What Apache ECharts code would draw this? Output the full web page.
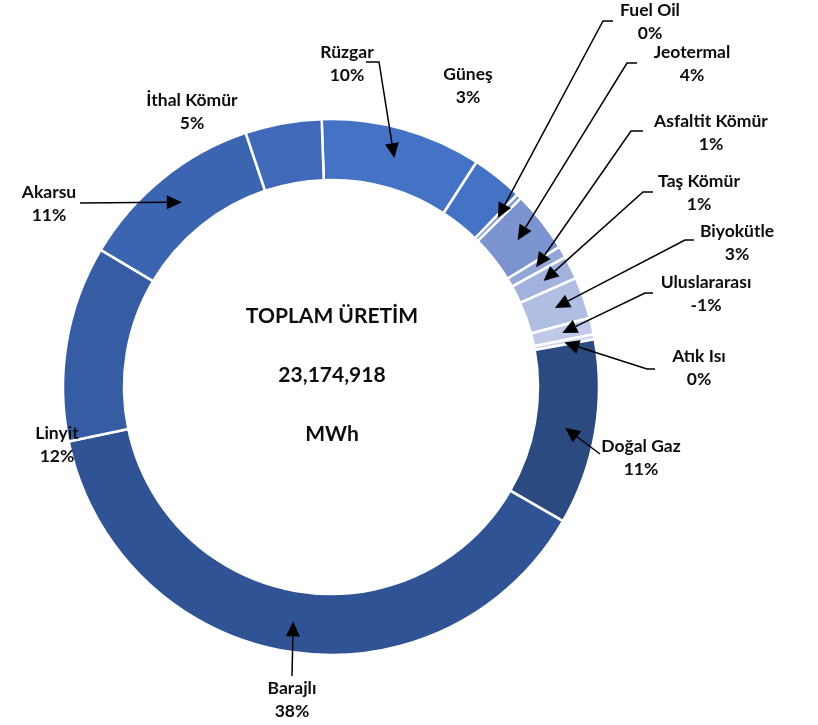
<!DOCTYPE html>
<html>
<head>
<meta charset="utf-8">
<script src="https://cdn.jsdelivr.net/npm/echarts@6/dist/echarts.min.js"></script>
<style>
  html, body { margin: 0; padding: 0; background: #fff; }
  #main { width: 818px; height: 725px; }
</style>
</head>
<body>
<div id="main"></div>
<script>
// kaynaklar (saat yönünde, tepeden başlayarak)
var sources = ['Rüzgar', 'Güneş', 'Fuel Oil', 'Jeotermal', 'Asfaltit Kömür', 'Taş Kömür', 'Biyokütle',
  'Uluslararası', 'Atık Isı', 'Doğal Gaz', 'Barajlı', 'Linyit', 'Akarsu', 'İthal Kömür'];
// pay (%)
var shares = [9.7, 3.1, 0.3, 3.7, 0.7, 1.4, 2.5, -1.0, 0.3, 11.2, 38.4, 11.8, 11.3, 4.6];
var totalText = '23,174,918';
var centerLines = ['TOPLAM ÜRETİM', totalText, 'MWh'];

var colors = ['#4472C4', '#4472C4', '#8398D1', '#7B93CF', '#93A6D8', '#A2B2DD', '#B1BEE3',
  '#C0CAE8', '#CDD5EC', '#2A4A80', '#2F5394', '#365CA4', '#3B64B1', '#4069B9'];

// etiket yerleri: metin merkezi, çizgi başlangıcı, dirsek (null = ok yok)
var labelPos = [
  [347, 64], [468, 86], [650, 22], [692, 64], [711, 133], [699, 193], [737, 243],
  [706, 294], [699, 368], [641, 458], [292, 700], [57, 445], [49, 204], [192, 112]
];
var lineStart = [
  [366, 62], null, [613, 21], [637, 63], [643, 131], [653, 192], [694, 240],
  [653, 293], [655, 369], [600, 454], [292, 676], null, [80, 203], null
];
var lineElbow = [
  [379, 62], null, [603, 21], [627, 63], [631, 131], [643, 192], [685, 240],
  [645, 293], [647, 369], [600, 454], [292, 676], null, [80, 203], null
];

var chart = echarts.init(document.getElementById('main'));
var fontFam = 'Lato, "Open Sans", sans-serif';

chart.setOption({
  backgroundColor: '#fff',
  animation: false,
  series: [{
    type: 'pie',
    center: [331, 387],
    radius: [207, 268],
    startAngle: 92,
    clockwise: true,
    avoidLabelOverlap: false,
    itemStyle: { borderColor: '#fff', borderWidth: 2.5 },
    label: {
      show: true,
      formatter: function (p) {
        return p.name + '\n' + Math.round(p.data.share) + '%';
      },
      fontFamily: fontFam,
      fontWeight: 'bold',
      fontSize: 17.5,
      lineHeight: 23,
      color: '#0d0d0d',
      align: 'center'
    },
    labelLine: { show: false },
    labelLayout: function (p) {
      var pos = labelPos[p.dataIndex];
      return { x: pos[0], y: pos[1], align: 'center', verticalAlign: 'middle' };
    },
    emphasis: { disabled: true },
    data: sources.map(function (n, i) {
      return { name: n, value: Math.abs(shares[i]), share: shares[i], itemStyle: { color: colors[i] } };
    })
  }]
});

// oklar: dilimin orta açısına, halkanın ortasına
var pieData = chart.getModel().getSeriesByIndex(0).getData();
var graphics = [];
sources.forEach(function (n, i) {
  if (!lineStart[i]) return;
  var lay = pieData.getItemLayout(i);
  var mid = (lay.startAngle + lay.endAngle) / 2;
  var rm = (lay.r + lay.r0) / 2;
  var tip = [lay.cx + rm * Math.cos(mid), lay.cy + rm * Math.sin(mid)];
  var e = lineElbow[i];
  var dx = tip[0] - e[0], dy = tip[1] - e[1];
  var len = Math.sqrt(dx * dx + dy * dy);
  var ux = dx / len, uy = dy / len;
  var hl = 15, hw = 7;
  var base = [tip[0] - ux * hl, tip[1] - uy * hl];
  graphics.push({
    type: 'polyline',
    shape: { points: [lineStart[i], e, base] },
    style: { stroke: '#000', lineWidth: 1.5, fill: null },
    z: 10
  });
  graphics.push({
    type: 'polygon',
    shape: { points: [tip, [base[0] - uy * hw, base[1] + ux * hw], [base[0] + uy * hw, base[1] - ux * hw]] },
    style: { fill: '#000' },
    z: 10
  });
});

centerLines.forEach(function (t, k) {
  graphics.push({
    type: 'text',
    x: 332,
    y: 316 + k * 59,
    style: {
      text: t,
      fontFamily: fontFam,
      fontWeight: 'bold',
      fontSize: 21,
      fill: '#0d0d0d',
      textAlign: 'center',
      textVerticalAlign: 'middle'
    },
    z: 10
  });
});

chart.setOption({ graphic: graphics });
</script>
</body>
</html>
